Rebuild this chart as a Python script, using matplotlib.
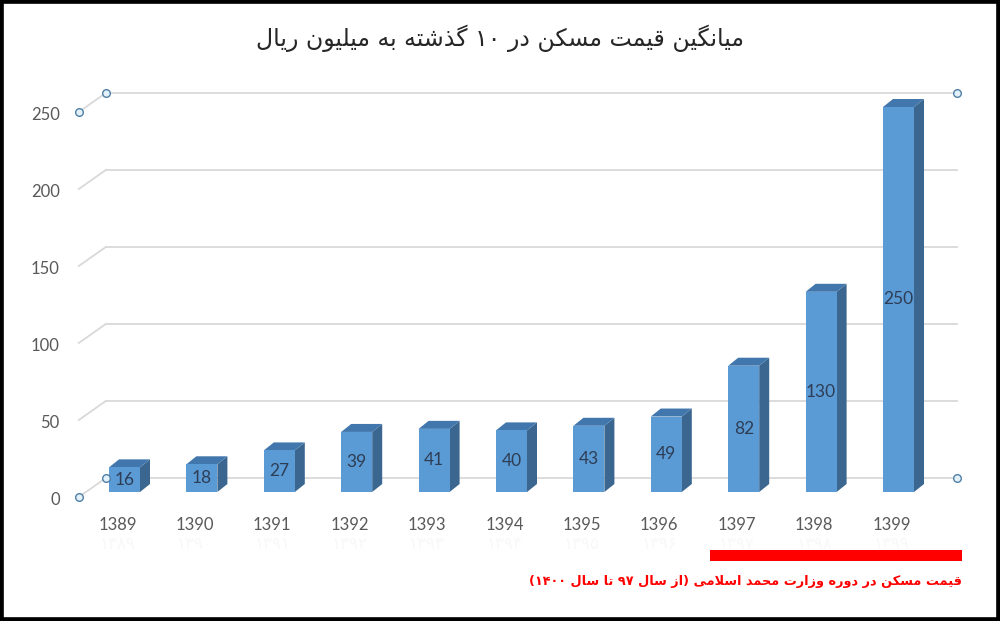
import matplotlib
matplotlib.use("Agg")
import matplotlib.pyplot as plt
from matplotlib.patches import Polygon, Rectangle
from matplotlib.lines import Line2D
from matplotlib.transforms import offset_copy
import numpy as np

years = ["1389", "1390", "1391", "1392", "1393", "1394", "1395", "1396", "1397", "1398", "1399"]
years_fa = ["۱۳۸۹", "۱۳۹۰", "۱۳۹۱", "۱۳۹۲", "۱۳۹۳", "۱۳۹۴", "۱۳۹۵", "۱۳۹۶", "۱۳۹۷", "۱۳۹۸", "۱۳۹۹"]
prices = [16, 18, 27, 39, 41, 40, 43, 49, 82, 130, 250]
yticks = [0, 50, 100, 150, 200, 250]

title = "میانگین قیمت مسکن در ۱۰ گذشته به میلیون ریال"
note = "قیمت مسکن در دوره وزارت محمد اسلامی (از سال ۹۷ تا سال ۱۴۰۰)"

# contextual forms: isolated, final, initial, medial
FORMS = {
    "ا": ("\uFE8D", "\uFE8E", None, None),
    "ب": ("\uFE8F", "\uFE90", "\uFE91", "\uFE92"),
    "ت": ("\uFE95", "\uFE96", "\uFE97", "\uFE98"),
    "ح": ("\uFEA1", "\uFEA2", "\uFEA3", "\uFEA4"),
    "د": ("\uFEA9", "\uFEAA", None, None),
    "ذ": ("\uFEAB", "\uFEAC", None, None),
    "ر": ("\uFEAD", "\uFEAE", None, None),
    "ز": ("\uFEAF", "\uFEB0", None, None),
    "س": ("\uFEB1", "\uFEB2", "\uFEB3", "\uFEB4"),
    "ش": ("\uFEB5", "\uFEB6", "\uFEB7", "\uFEB8"),
    "ق": ("\uFED5", "\uFED6", "\uFED7", "\uFED8"),
    "ل": ("\uFEDD", "\uFEDE", "\uFEDF", "\uFEE0"),
    "م": ("\uFEE1", "\uFEE2", "\uFEE3", "\uFEE4"),
    "ن": ("\uFEE5", "\uFEE6", "\uFEE7", "\uFEE8"),
    "ه": ("\uFEE9", "\uFEEA", "\uFEEB", "\uFEEC"),
    "و": ("\uFEED", "\uFEEE", None, None),
    "ی": ("\uFBFC", "\uFBFD", "\uFBFE", "\uFBFF"),
    "ک": ("\uFB8E", "\uFB8F", "\uFB90", "\uFB91"),
    "گ": ("\uFB92", "\uFB93", "\uFB94", "\uFB95"),
}
MIRROR = {"(": ")", ")": "("}
DIGITS = set("0123456789۰۱۲۳۴۵۶۷۸۹")


def joins_next(c):
    return c in FORMS and FORMS[c][2] is not None


def fa(text):
    # shape letters
    out = []
    i = 0
    n = len(text)
    while i < n:
        c = text[i]
        prev = text[i - 1] if i > 0 else ""
        nxt = text[i + 1] if i + 1 < n else ""
        if c not in FORMS:
            out.append(c)
            i += 1
            continue
        p = joins_next(prev)
        if c == "ل" and nxt == "ا":
            out.append("\uFEFC" if p else "\uFEFB")
            i += 2
            continue
        nx = joins_next(c) and nxt in FORMS
        f = FORMS[c]
        if p and nx:
            out.append(f[3])
        elif p:
            out.append(f[1])
        elif nx:
            out.append(f[2])
        else:
            out.append(f[0])
        i += 1
    s = "".join(out)
    # visual order: reverse, keep digit runs LTR
    runs = []
    for ch in s:
        d = ch in DIGITS
        if runs and runs[-1][0] == d:
            runs[-1][1].append(ch)
        else:
            runs.append([d, [ch]])
    res = []
    for d, chars in reversed(runs):
        if d:
            res.extend(chars)
        else:
            res.extend(MIRROR.get(ch, ch) for ch in reversed(chars))
    return "".join(res)


W, H = 1000, 621
fig = plt.figure(figsize=(W / 100, H / 100), dpi=100)
fig.patch.set_facecolor("white")

# axes in the bars' plane
left_px, right_px = 85.8, 937.2
bot_px, top_px = 492, 107
ax = fig.add_axes([left_px / W, 1 - bot_px / H, (right_px - left_px) / W, (bot_px - top_px) / H])
n = len(prices)
ax.set_xlim(-0.5, n - 0.5)
ax.set_ylim(0, 250)
ax.axis("off")

px_x = (right_px - left_px) / n
px_y = (bot_px - top_px) / 250.0

# depth offsets (pixels) of front plane and back wall relative to bar plane
front = (-7, -5)
back = (20, 14)

grid_c = "#d9d9d9"
tr_back = offset_copy(ax.transData, fig=fig, x=back[0], y=back[1], units="dots")
x0, x1 = ax.get_xlim()
for v in yticks:
    ax.plot([x0, x1], [v, v], color=grid_c, lw=1.3, transform=tr_back, zorder=1, clip_on=False)
    p = ax.transData.transform((x0, v))
    fig.add_artist(Line2D([(p[0] + front[0]) / W, (p[0] + back[0]) / W],
                          [(p[1] + front[1]) / H, (p[1] + back[1]) / H],
                          color=grid_c, lw=1.3, zorder=1))

# selection handles
handles = []
for (xx, vv, off) in [(x0, 250, front), (x0, 250, back), (x1, 250, back),
                      (x1, 0, back), (x0, 0, back), (x0, 0, front)]:
    p = ax.transData.transform((xx, vv))
    handles.append(((p[0] + off[0]) / W, (p[1] + off[1]) / H))
hx, hy = zip(*handles)
fig.add_artist(Line2D(hx, hy, ls="none", marker="o", ms=5.5, mfc="#e3f1fa",
                      mec="#4f7fa6", mew=1.0, zorder=5))

# 3D bars
bw = 31 / px_x
ddx = 10 / px_x
ddy = 8 / px_y
c_front = "#5b9bd5"
c_side = "#3a6690"
c_top = "#4277ad"
for i, v in enumerate(prices):
    xa = i - bw / 2
    xb = i + bw / 2
    ax.add_patch(Polygon([(xb, 0), (xb + ddx, ddy), (xb + ddx, v + ddy), (xb, v)],
                         closed=True, fc=c_side, ec="none", zorder=3, clip_on=False))
    ax.add_patch(Polygon([(xa, v), (xb, v), (xb + ddx, v + ddy), (xa + ddx, v + ddy)],
                         closed=True, fc=c_top, ec="none", zorder=3, clip_on=False))
    ax.bar(i, v, width=bw, color=c_front, zorder=4, clip_on=False)
    ax.text(i, v / 2, str(v), ha="center", va="center", fontsize=12.5,
            family="Lato", color="#2d3d55", zorder=6)

# y tick labels on the front plane
tr_ylab = offset_copy(ax.transData, fig=fig, x=front[0] - 19, y=front[1] - 3, units="dots")
for v in yticks:
    ax.text(x0, v, str(v), transform=tr_ylab, ha="right", va="center",
            fontsize=12, family="Lato", color="#595959", clip_on=False)

# category labels
tr_x = offset_copy(ax.transData, fig=fig, x=front[0], y=-33, units="dots")
tr_x2 = offset_copy(ax.transData, fig=fig, x=front[0], y=-52, units="dots")
for i, (y, yf) in enumerate(zip(years, years_fa)):
    ax.text(i, 0, y, transform=tr_x, ha="center", va="center", fontsize=12,
            family="Lato", color="#595959", clip_on=False)
    ax.text(i, 0, yf, transform=tr_x2, ha="center", va="center", fontsize=12,
            family="DejaVu Sans", color="#f8f8f8", clip_on=False)

# title
fig.text(0.5, 1 - 38 / H, fa(title), ha="center", va="center", fontsize=17,
         family="DejaVu Sans", color="#262626")

# red underline and note
fig.add_artist(Rectangle((710 / W, 1 - 561 / H), 252 / W, 11 / H,
                         transform=fig.transFigure, fc="#ff0000", ec="none"))
fig.text(962 / W, 1 - 582 / H, fa(note), ha="right", va="center", fontsize=9.3,
         family="DejaVu Sans", weight="bold", color="#ff0000")

# outer black frame
fig.add_artist(Rectangle((0, 0), 1, 1, transform=fig.transFigure, fill=False,
                         ec="black", lw=5.5))

fig.savefig("out.png", dpi=100)
